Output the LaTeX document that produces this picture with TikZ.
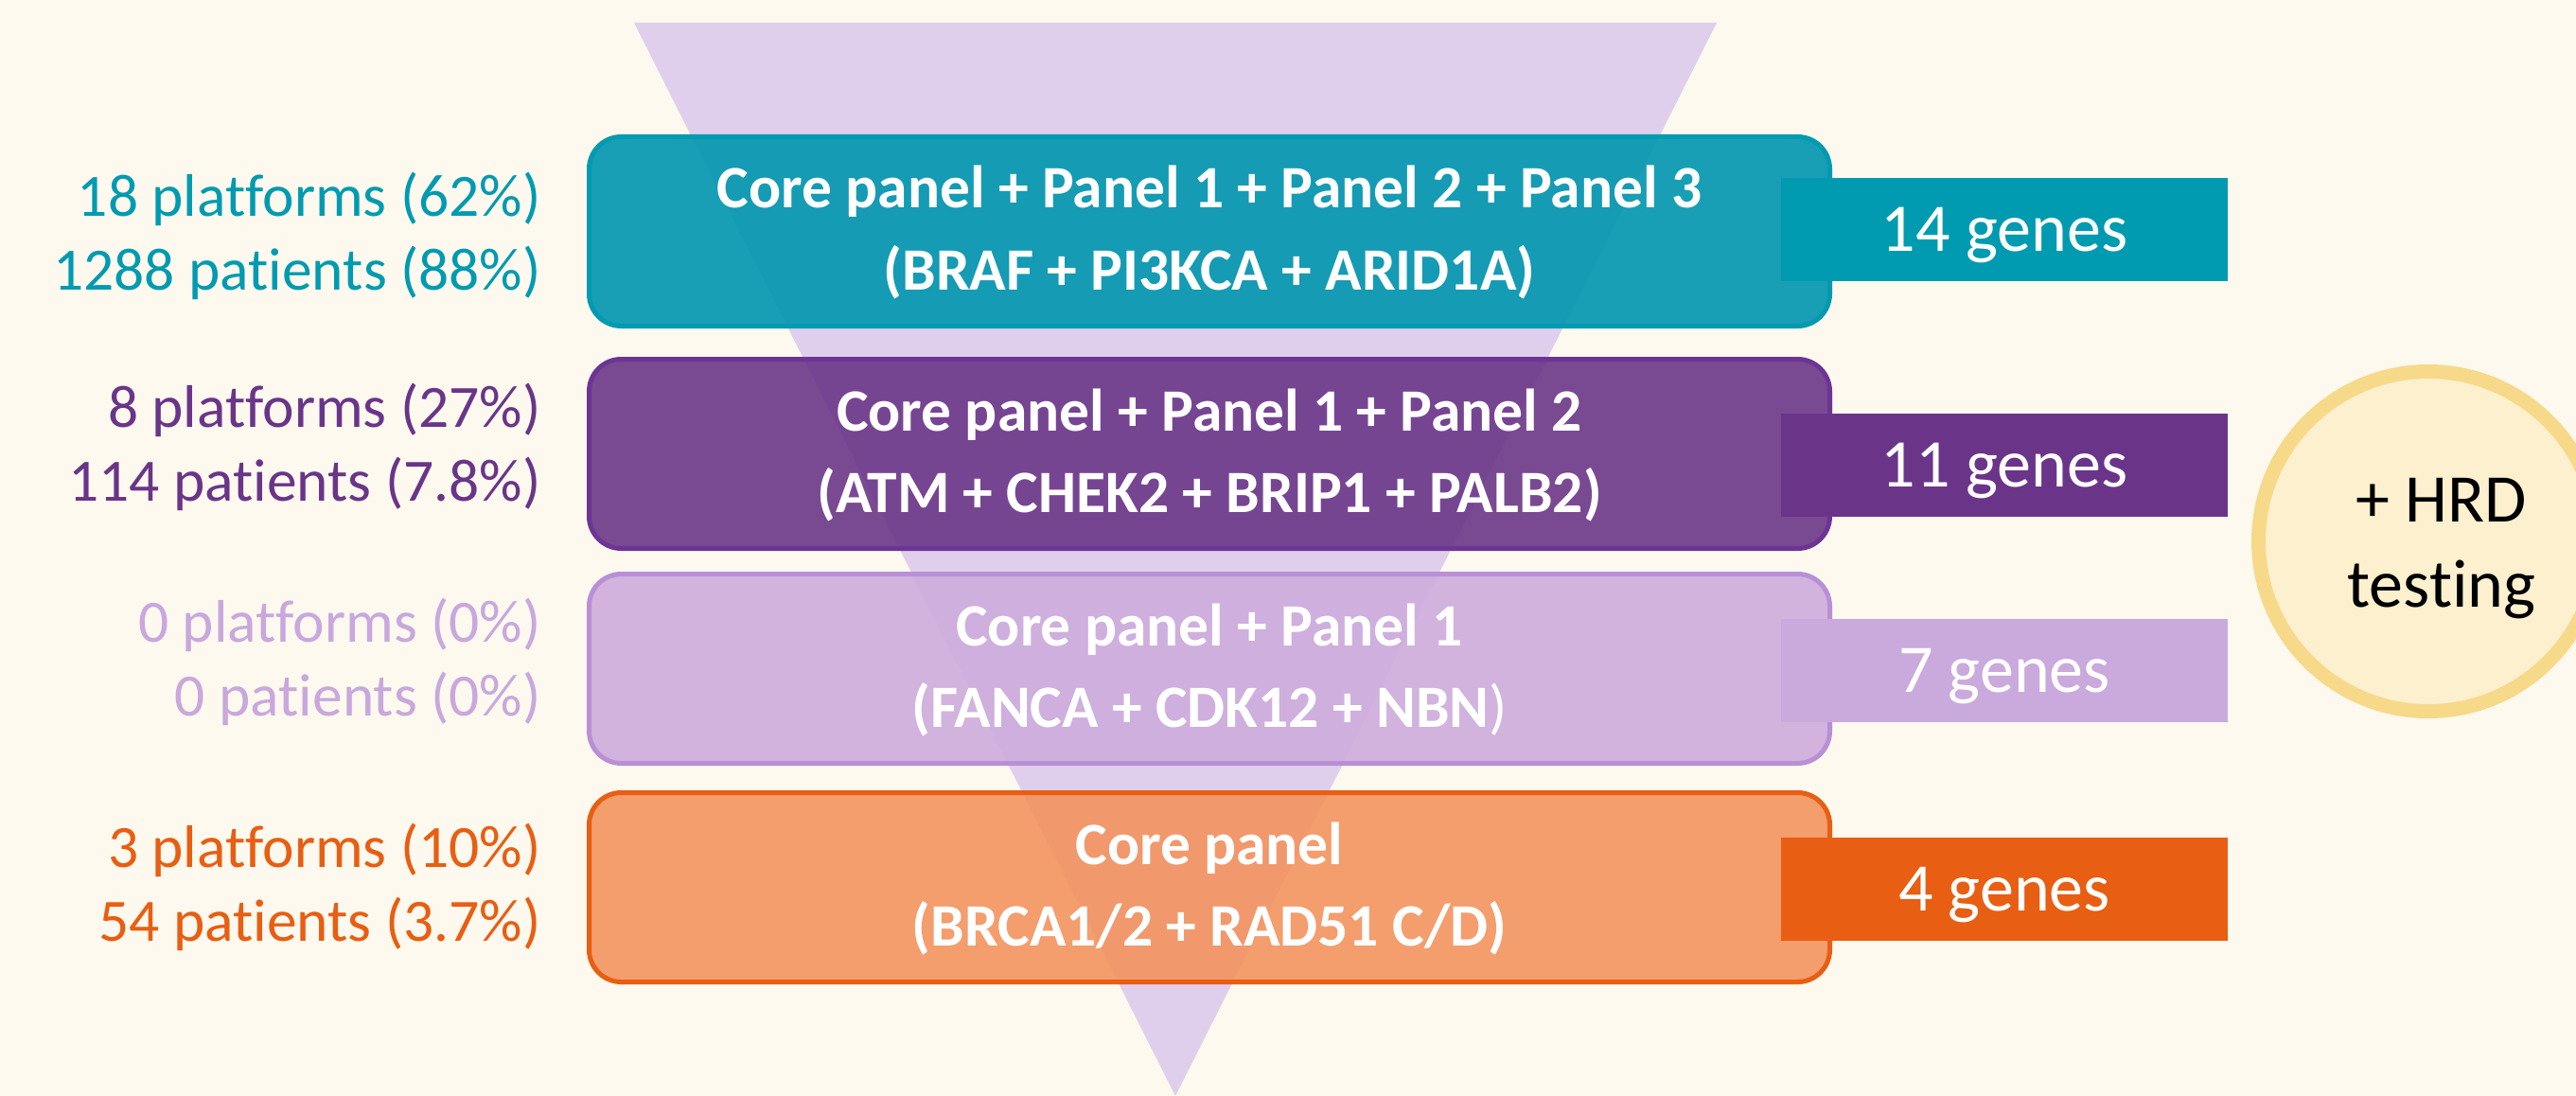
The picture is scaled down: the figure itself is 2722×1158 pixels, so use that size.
\documentclass[tikz,border=0pt]{standalone}
\usepackage{fontspec}
\setmainfont{Carlito}[Ligatures=NoCommon]
\begin{document}
\begin{tikzpicture}[x=1pt,y=-1pt,
  panel/.style={rectangle, rounded corners=34pt, line width=5pt,
    minimum width=1311pt, minimum height=200pt, fill opacity=0.9, inner sep=0pt},
  panelline/.style={anchor=base, text=white,
    font=\fontsize{63.5}{86}\selectfont\bfseries},
  genebox/.style={rectangle, minimum width=472pt, minimum height=109pt,
    inner sep=0pt, text=white, text height=46pt, text depth=0pt,
    font=\fontsize{72}{86}\selectfont},
  stat/.style={anchor=base east, font=\fontsize{63.5}{77}\selectfont},
  hrdline/.style={anchor=base, font=\fontsize{72}{88}\selectfont}]
  % palette
  \definecolor{bg}{HTML}{FEF9EE}
  \definecolor{funnel}{HTML}{E0CFEC}
  \definecolor{tealdk}{HTML}{009BB0}
  \definecolor{tealfill}{HTML}{0096AF}
  \definecolor{plumdk}{HTML}{6C3594}
  \definecolor{plumfill}{HTML}{6B3789}
  \definecolor{plumgene}{HTML}{6A3589}
  \definecolor{lilacdk}{HTML}{B98FD6}
  \definecolor{lilacfill}{HTML}{CDACDD}
  \definecolor{lilacgene}{HTML}{CAA9DD}
  \definecolor{lilactext}{HTML}{C8A8DD}
  \definecolor{orangedk}{HTML}{E85E12}
  \definecolor{orangefill}{HTML}{F3945F}
  \definecolor{ringline}{HTML}{F7D98A}
  \definecolor{ringfill}{HTML}{FCF0CE}

  % canvas
  \fill[bg] (0,0) rectangle (2722,1158);
  \useasboundingbox (0,0) rectangle (2722,1158);

  % funnel behind the tiers
  \fill[funnel] (670,24) -- (1814,24) -- (1242,1158) -- cycle;

  % tiers
  \node[panel, draw=tealdk, fill=tealfill] (t1) at (1278,244.5) {};
  \node[panel, draw=plumdk, fill=plumfill] (t2) at (1278,479.5) {};
  \node[panel, draw=lilacdk, fill=lilacfill] (t3) at (1278,706.5) {};
  \node[panel, draw=orangedk, fill=orangefill] (t4) at (1278,937.5) {};

  % tier labels
  \node[panelline] (t1a) at (1278,220) {Core panel + Panel 1 + Panel 2 + Panel 3};
  \node[panelline] (t1b) at (1278,306) {(BRAF + PI3KCA + ARID1A)};
  \node[panelline] (t2a) at (1278,455) {Core panel + Panel 1 + Panel 2};
  \node[panelline] (t2b) at (1278,541) {(ATM + CHEK2 + BRIP1 + PALB2)};
  \node[panelline] (t3a) at (1278,682) {Core panel + Panel 1};
  \node[panelline] (t3b) at (1278,768) {(FANCA + CDK12 + NBN{\mdseries)}};
  \node[panelline] (t4a) at (1278,913) {Core panel};
  \node[panelline] (t4b) at (1278,999) {(BRCA1/2 + RAD51 C/D)};

  % gene counts
  \node[genebox, fill=tealdk] (g1) at (2118,242.5) {14 genes};
  \node[genebox, fill=plumgene] (g2) at (2118,491) {11 genes};
  \node[genebox, fill=lilacgene] (g3) at (2118,708) {7 genes};
  \node[genebox, fill=orangedk] (g4) at (2118,939) {4 genes};

  % platform / patient counts
  \node[stat, text=tealdk] (s1a) at (575,229) {18 platforms (62\%)};
  \node[stat, text=tealdk] (s1b) at (575,306) {1288 patients (88\%)};
  \node[stat, text=plumgene] (s2a) at (575,451) {8 platforms (27\%)};
  \node[stat, text=plumgene] (s2b) at (575,529) {114 patients (7.8\%)};
  \node[stat, text=lilactext] (s3a) at (575,678) {0 platforms (0\%)};
  \node[stat, text=lilactext] (s3b) at (575,756) {0 patients (0\%)};
  \node[stat, text=orangedk] (s4a) at (575,916) {3 platforms (10\%)};
  \node[stat, text=orangedk] (s4b) at (575,994) {54 patients (3.7\%)};

  % HRD testing badge
  \node[circle, minimum size=359pt, inner sep=0pt, line width=15pt,
        draw=ringline, fill=ringfill] (hrd) at (2566,572) {};
  \node[hrdline] (hrda) at (2580,551) {+ HRD};
  \node[hrdline] (hrdb) at (2580,641) {testing};
\end{tikzpicture}
\end{document}
